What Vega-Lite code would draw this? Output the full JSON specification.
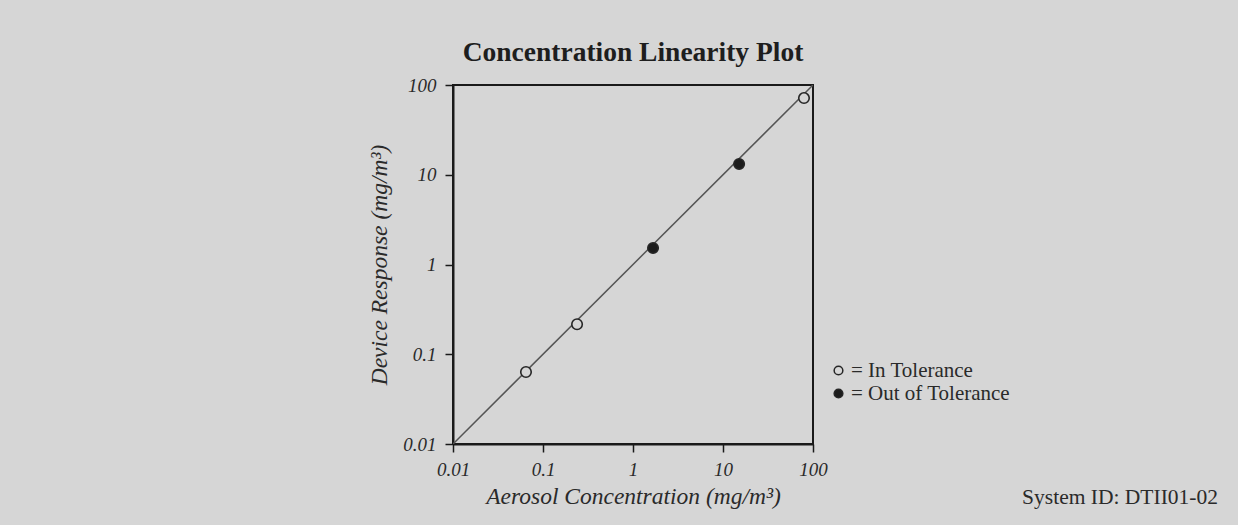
{
  "$schema": "https://vega.github.io/schema/vega-lite/v6.json",
  "width": 360,
  "height": 359,
  "autosize": {"type": "none"},
  "padding": {"left": 453, "top": 85, "right": 425, "bottom": 81},
  "background": "#d6d6d6",
  "title": {
    "text": "Concentration Linearity Plot",
    "font": "Liberation Serif",
    "fontSize": 27.5,
    "fontWeight": "bold",
    "color": "#1e1e1e",
    "anchor": "middle",
    "offset": 10
  },
  "config": {
    "view": {"stroke": "#1a1a1a", "strokeWidth": 2},
    "axis": {
      "labelFont": "Liberation Serif",
      "labelFontStyle": "italic",
      "labelFontSize": 19,
      "labelColor": "#2a2a2a",
      "labelFlush": false,
      "titleFont": "Liberation Serif",
      "titleFontStyle": "italic",
      "titleFontWeight": "normal",
      "titleFontSize": 23.5,
      "titleColor": "#2a2a2a",
      "domainColor": "#1a1a1a",
      "domainWidth": 2,
      "tickColor": "#1a1a1a",
      "tickWidth": 1.5,
      "tickSize": 8,
      "grid": false
    }
  },
  "datasets": {
    "points": [
      {"concentration": 0.0647, "response": 0.0634, "status": "In Tolerance"},
      {"concentration": 0.239, "response": 0.216, "status": "In Tolerance"},
      {"concentration": 1.67, "response": 1.53, "status": "Out of Tolerance"},
      {"concentration": 15.1, "response": 13.2, "status": "Out of Tolerance"},
      {"concentration": 79.4, "response": 71.6, "status": "In Tolerance"}
    ],
    "line": [
      {"concentration": 0.01, "response": 0.01},
      {"concentration": 100, "response": 100}
    ],
    "note": [
      {"label": "System ID: DTII01-02"}
    ]
  },
  "layer": [
    {
      "data": {"name": "line"},
      "mark": {"type": "line", "color": "#555555", "strokeWidth": 1.5, "clip": true},
      "encoding": {
        "x": {
          "field": "concentration",
          "type": "quantitative",
          "scale": {"type": "log", "domain": [0.01, 100], "nice": false},
          "axis": {
            "title": "Aerosol Concentration (mg/m³)",
            "values": [0.01, 0.1, 1, 10, 100],
            "labelExpr": "datum.value >= 1 ? format(datum.value, 'd') : format(datum.value, '')",
            "labelPadding": 8,
            "titlePadding": 5
          }
        },
        "y": {
          "field": "response",
          "type": "quantitative",
          "scale": {"type": "log", "domain": [0.01, 100], "nice": false},
          "axis": {
            "title": "Device Response (mg/m³)",
            "values": [0.01, 0.1, 1, 10, 100],
            "labelExpr": "datum.value >= 1 ? format(datum.value, 'd') : format(datum.value, '')",
            "labelPadding": 9,
            "titlePadding": 11
          }
        }
      }
    },
    {
      "data": {"name": "points"},
      "mark": {"type": "point", "shape": "circle", "filled": true, "size": 110, "stroke": "#262626", "strokeWidth": 1.6, "opacity": 1},
      "encoding": {
        "x": {"field": "concentration", "type": "quantitative"},
        "y": {"field": "response", "type": "quantitative"},
        "fill": {
          "field": "status",
          "type": "nominal",
          "scale": {"domain": ["In Tolerance", "Out of Tolerance"], "range": ["#d6d6d6", "#1c1c1c"]},
          "legend": {
            "title": null,
            "orient": "none",
            "legendX": 375,
            "legendY": 275,
            "labelExpr": "'= ' + datum.label",
            "labelFont": "Liberation Serif",
            "labelFontSize": 21,
            "labelColor": "#2a2a2a",
            "labelLimit": 0,
            "symbolType": "circle",
            "symbolSize": 75,
            "symbolStrokeColor": "#262626",
            "symbolStrokeWidth": 1.5,
            "symbolOpacity": 1,
            "labelOffset": 2,
            "rowPadding": 1
          }
        }
      }
    },
    {
      "data": {"name": "note"},
      "mark": {"type": "text", "font": "Liberation Serif", "fontSize": 21.5, "color": "#2a2a2a", "align": "right", "baseline": "middle", "clip": false},
      "encoding": {
        "x": {"datum": 3160000},
        "y": {"datum": 0.0025},
        "text": {"field": "label"}
      }
    }
  ]
}
